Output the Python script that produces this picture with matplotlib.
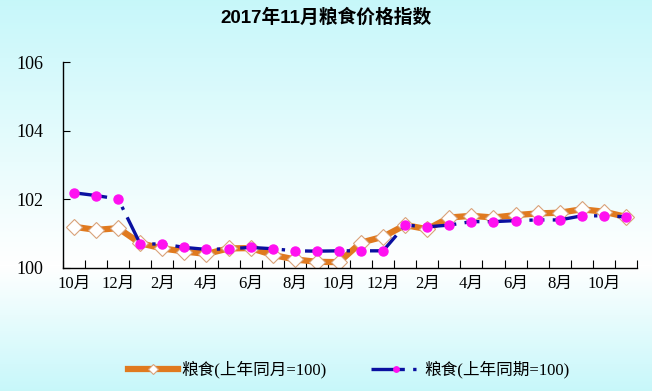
import matplotlib
matplotlib.use("Agg")
import matplotlib.pyplot as plt
import numpy as np

# 数据: 2015年10月 - 2017年11月
labels = ["10月", "12月", "2月", "4月", "6月", "8月", "10月",
          "12月", "2月", "4月", "6月", "8月", "10月"]
tongyue = [101.20, 101.11, 101.16, 100.72, 100.57, 100.48, 100.41, 100.57,
           100.58, 100.38, 100.25, 100.18, 100.17, 100.74, 100.91, 101.25,
           101.13, 101.47, 101.52, 101.47, 101.54, 101.59, 101.61, 101.71,
           101.64, 101.49]
tongqi = [102.19, 102.11, 102.01, 100.70, 100.70, 100.60, 100.54, 100.56,
          100.60, 100.56, 100.50, 100.49, 100.50, 100.50, 100.50, 101.25,
          101.20, 101.25, 101.35, 101.35, 101.38, 101.40, 101.40, 101.52,
          101.52, 101.49]

cjk_serif = ["Liberation Serif", "Noto Sans CJK SC"]
cjk_sans = ["Liberation Sans", "Noto Sans CJK SC"]

fig = plt.figure(figsize=(6.52, 3.91), dpi=100)

# 背景渐变
bg = fig.add_axes([0, 0, 1, 1], zorder=-10)
ypix = np.arange(391)
t = np.where(ypix < 265, 1 - ypix / 265, (ypix - 265) / 126)
t = np.clip(t, 0, 1)[:, None]
cyan = np.array([0.78, 0.97, 0.98])
white = np.array([1.0, 1.0, 1.0])
img = white * (1 - t[..., None]) + cyan * t[..., None]
img = np.repeat(img, 2, axis=1)
bg.imshow(img, aspect="auto", extent=[0, 1, 0, 1])
bg.axis("off")

ax = fig.add_axes([0.0966, 0.3146, 0.8804, 0.5268])
ax.patch.set_alpha(0)
x = np.arange(len(tongyue))

ax.plot(x, tongyue, color="#E07A1F", lw=4.5, marker="D", ms=8.5,
        mfc="white", mec="#D9A27A", mew=0.8, label="粮食(上年同月=100)",
        zorder=2)
ax.plot(x, tongqi, color="#0A10A0", lw=2.4, dashes=(10, 2.5, 1, 2.5, 1, 2.5),
        marker="o", ms=6.5, mfc="#FF10F0", mec="#FF10F0",
        label="粮食(上年同期=100)", zorder=3)

ax.set_xlim(-0.5, len(x) - 0.5)
ax.set_ylim(100, 106)
ax.set_yticks([100, 102, 104, 106])
ax.tick_params(axis="y", direction="in", length=5, pad=14, labelsize=13)
for lab in ax.get_yticklabels():
    lab.set_family(cjk_serif)

ax.set_xticks(np.arange(-0.5, len(x)), [])
ax.set_xticks(np.arange(0, len(x), 2), labels, minor=True)
ax.tick_params(axis="x", which="major", direction="in", length=6)
ax.tick_params(axis="x", which="minor", length=0, pad=6, labelsize=12)
for lab in ax.get_xticklabels(minor=True):
    lab.set_family(cjk_serif)

for s in ["top", "right"]:
    ax.spines[s].set_visible(False)
ax.spines["left"].set_linewidth(1)
ax.spines["bottom"].set_linewidth(1)

fig.text(0.5, 0.955, "2017年11月粮食价格指数", ha="center", va="center",
         fontsize=13.5, fontweight="bold", family=cjk_sans)

fig.legend(loc="center", bbox_to_anchor=(0.535, 0.055), ncol=2, frameon=False,
           handlelength=3.0, columnspacing=2.7, handletextpad=0.2,
           markerscale=0.6, prop={"family": cjk_serif, "size": 12})

fig.savefig("out.png", dpi=100)
